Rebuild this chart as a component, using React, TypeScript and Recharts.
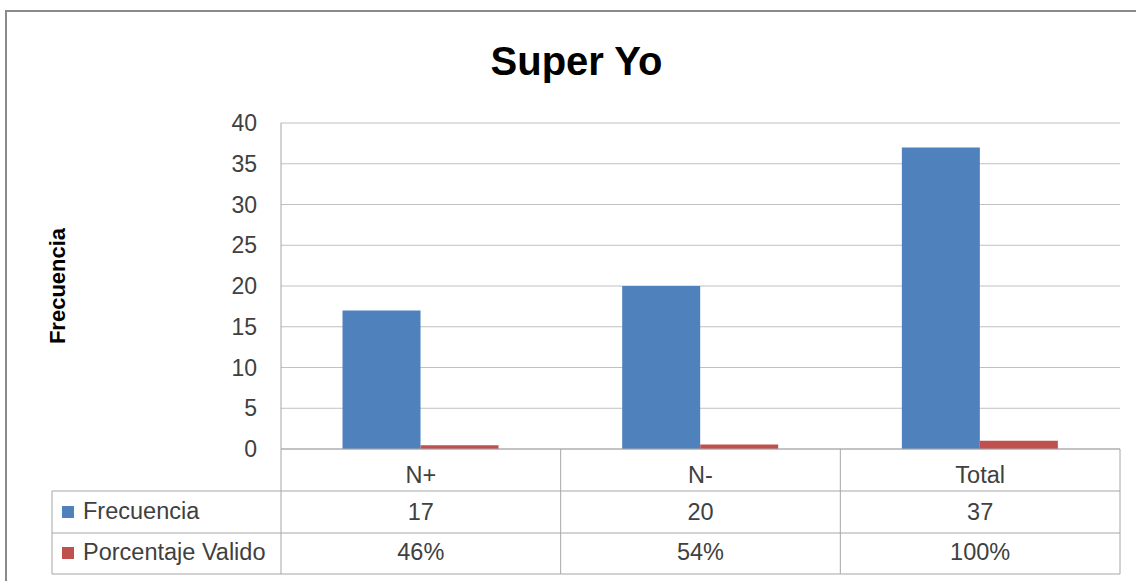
import { BarChart, Bar, XAxis, YAxis, CartesianGrid } from "recharts";

const categories = ["N+", "N-", "Total"];
const frecuencia = [17, 20, 37];
const porcentajeValido = [0.46, 0.54, 1];
const yTicks = [0, 5, 10, 15, 20, 25, 30, 35, 40];
const seriesNames = ["Frecuencia", "Porcentaje Valido"];
const seriesColors = ["#4F81BD", "#C0504D"];

const data = categories.map((name, i) => ({
  name,
  frecuencia: frecuencia[i],
  porcentaje: porcentajeValido[i],
}));

const FONT = '"Liberation Sans", Arial, sans-serif';
const TEXT = "#404040";
const LINE = "#a6a6a6";

// data table drawn under the x axis, one column per category tick
function TableTick(props: any) {
  const { x, y, payload, width, visibleTicksCount } = props;
  const band = width && visibleTicksCount ? width / visibleTicksCount : 279.7;
  const i = categories.indexOf(payload.value);
  const left = x - band / 2;
  const right = x + band / 2;
  const rowLines = [42, 84, 125];
  const labelLeft = left - 229;
  return (
    <g fontFamily={FONT} fontSize={23.5} fill={TEXT}>
      {i === 0 && <line x1={left} x2={left} y1={y} y2={y + 125} stroke={LINE} />}
      <line x1={right} x2={right} y1={y} y2={y + 125} stroke={LINE} />
      {rowLines.map((r) => (
        <line key={r} x1={left} x2={right} y1={y + r} y2={y + r} stroke={LINE} />
      ))}
      <text x={x} y={y + 34} textAnchor="middle">{payload.value}</text>
      <text x={x} y={y + 71} textAnchor="middle">{frecuencia[i]}</text>
      <text x={x} y={y + 111} textAnchor="middle">{`${Math.round(porcentajeValido[i] * 100)}%`}</text>
      {i === 0 && (
        <g>
          <line x1={labelLeft} x2={left} y1={y + 42} y2={y + 42} stroke={LINE} />
          <line x1={labelLeft} x2={left} y1={y + 84} y2={y + 84} stroke={LINE} />
          <line x1={labelLeft} x2={left} y1={y + 125} y2={y + 125} stroke={LINE} />
          <line x1={labelLeft} x2={labelLeft} y1={y + 42} y2={y + 125} stroke={LINE} />
          {seriesNames.map((s, k) => (
            <g key={s}>
              <rect x={labelLeft + 10} y={y + 57 + k * 41} width={12} height={12} fill={seriesColors[k]} />
              <text x={labelLeft + 31} y={y + 70 + k * 41} textAnchor="start">{s}</text>
            </g>
          ))}
        </g>
      )}
    </g>
  );
}

export default function App() {
  return (
    <div style={{ position: "relative", width: 1136, height: 581, overflow: "hidden", background: "#fff" }}>
      <style>{`body{margin:0}`}</style>
      <div
        style={{
          position: "absolute",
          left: 5,
          top: 10,
          width: 1300,
          height: 800,
          borderTop: "2px solid #8a8a8a",
          borderLeft: "2px solid #8a8a8a",
        }}
      />
      <div
        style={{
          position: "absolute",
          left: 0,
          width: 1153,
          top: 42,
          textAlign: "center",
          fontFamily: FONT,
          fontWeight: "bold",
          fontSize: 40,
          lineHeight: "39px",
          color: "#000",
        }}
      >
        Super Yo
      </div>
      <div style={{ position: "absolute", left: 0, top: 0 }}>
        <BarChart
          width={1136}
          height={581}
          data={data}
          margin={{ top: 123, right: 16, bottom: 7, left: 0 }}
          barCategoryGap="22%"
          barGap={0}
        >
          <CartesianGrid vertical={false} stroke="#c0c0c0" />
          <XAxis
            dataKey="name"
            height={125}
            tickSize={0}
            tickMargin={0}
            tickLine={false}
            axisLine={{ stroke: LINE }}
            tick={<TableTick />}
            interval={0}
          />
          <YAxis
            width={281}
            domain={[0, 40]}
            ticks={yTicks}
            tickSize={0}
            tickMargin={24}
            tickLine={false}
            axisLine={{ stroke: LINE }}
            tick={{ fontFamily: FONT, fontSize: 23, fill: TEXT }}
            label={{
              value: "Frecuencia",
              angle: -90,
              position: "insideLeft",
              offset: 57,
              style: { fontFamily: FONT, fontSize: 22, fontWeight: "bold", fill: "#000", textAnchor: "middle" },
            }}
          />
          <Bar dataKey="frecuencia" name={seriesNames[0]} fill={seriesColors[0]} isAnimationActive={false} />
          <Bar dataKey="porcentaje" name={seriesNames[1]} fill={seriesColors[1]} isAnimationActive={false} />
        </BarChart>
      </div>
    </div>
  );
}
